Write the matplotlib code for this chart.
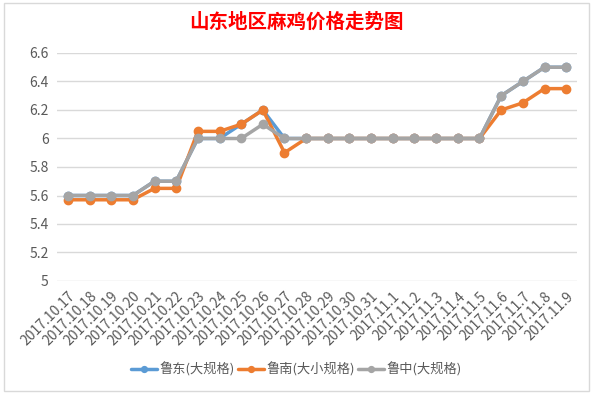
import matplotlib
matplotlib.use("Agg")
import matplotlib.pyplot as plt
from matplotlib.patches import Rectangle

plt.rcParams["font.family"] = ["Noto Sans CJK SC", "DejaVu Sans"]

dates = ["2017.10.17", "2017.10.18", "2017.10.19", "2017.10.20", "2017.10.21",
         "2017.10.22", "2017.10.23", "2017.10.24", "2017.10.25", "2017.10.26",
         "2017.10.27", "2017.10.28", "2017.10.29", "2017.10.30", "2017.10.31",
         "2017.11.1", "2017.11.2", "2017.11.3", "2017.11.4", "2017.11.5",
         "2017.11.6", "2017.11.7", "2017.11.8", "2017.11.9"]

ludong = [5.6, 5.6, 5.6, 5.6, 5.7, 5.7, 6.0, 6.0, 6.1, 6.2, 6.0, 6.0,
          6.0, 6.0, 6.0, 6.0, 6.0, 6.0, 6.0, 6.0, 6.3, 6.4, 6.5, 6.5]
lunan = [5.57, 5.57, 5.57, 5.57, 5.65, 5.65, 6.05, 6.05, 6.1, 6.2, 5.9, 6.0,
         6.0, 6.0, 6.0, 6.0, 6.0, 6.0, 6.0, 6.0, 6.2, 6.25, 6.35, 6.35]
luzhong = [5.6, 5.6, 5.6, 5.6, 5.7, 5.7, 6.0, 6.0, 6.0, 6.1, 6.0, 6.0,
           6.0, 6.0, 6.0, 6.0, 6.0, 6.0, 6.0, 6.0, 6.3, 6.4, 6.5, 6.5]
yticks = [5, 5.2, 5.4, 5.6, 5.8, 6, 6.2, 6.4, 6.6]
ytick_labels = ["5", "5.2", "5.4", "5.6", "5.8", "6", "6.2", "6.4", "6.6"]

series = [
    ("鲁东(大规格)", ludong, "#5B9BD5"),
    ("鲁南(大小规格)", lunan, "#ED7D31"),
    ("鲁中(大规格)", luzhong, "#A5A5A5"),
]

fig = plt.figure(figsize=(5.93, 3.94), dpi=100)
fig.patches.append(Rectangle((0.006, 0.008), 0.988, 0.985, transform=fig.transFigure,
                             fill=False, edgecolor="#D9D9D9", linewidth=1))
ax = fig.add_axes([57 / 593, 1 - 281 / 394, 520 / 593, 228 / 394])

x = list(range(len(dates)))
for name, vals, color in series:
    ax.plot(x, vals, color=color, linewidth=2.5, marker="o", markersize=6,
            label=name, solid_capstyle="round")

ax.set_xlim(-0.5, len(dates) - 0.5)
ax.set_ylim(5, 6.6)
ax.set_yticks(yticks)
ax.set_yticklabels(ytick_labels)
ax.set_xticks(x)
ax.set_xticklabels(dates, rotation=45, ha="right", rotation_mode="anchor")
ax.grid(axis="y", color="#D9D9D9", linewidth=1)
ax.set_axisbelow(True)
for s in ax.spines.values():
    s.set_visible(False)
ax.tick_params(length=0, colors="#595959", labelsize=10)
ax.tick_params(axis="y", pad=6)
ax.tick_params(axis="x", pad=6)

fig.text(0.5, 1 - 22 / 394, "山东地区麻鸡价格走势图", ha="center", va="center",
         color="#FF0000", fontsize=14, fontweight="bold")

fig.legend(loc="center", bbox_to_anchor=(0.5, 1 - 369 / 394), ncol=3, frameon=False,
           fontsize=9.5, labelcolor="#595959", handlelength=2.0, columnspacing=0.2,
           handletextpad=0.2, markerscale=0.7)

fig.savefig("out.png", dpi=100)
